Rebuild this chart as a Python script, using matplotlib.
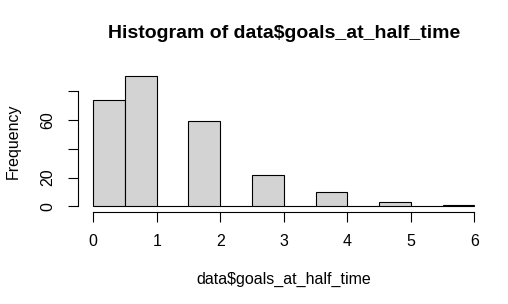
import matplotlib
matplotlib.use("Agg")
import matplotlib.pyplot as plt
import numpy as np

# histogram counts (bin width 0.5, from 0 to 6)
bin_edges = np.arange(0, 6.5, 0.5)
counts = [74, 90, 0, 59, 0, 22, 0, 10, 0, 3, 0, 1]
x_ticks = [0, 1, 2, 3, 4, 5, 6]
y_ticks = [0, 20, 40, 60, 80]
y_labels = ["0", "20", "", "60", ""]

plt.rcParams['font.family'] = ['Liberation Sans', 'DejaVu Sans']

W, H = 508, 304
fig = plt.figure(figsize=(W / 100, H / 100), dpi=100)
ax = fig.add_axes([78 / W, 1 - 211.7 / H, (489.5 - 78) / W, (211.7 - 71.2) / H])

widths = np.diff(bin_edges)
ax.bar(bin_edges[:-1], counts, width=widths, align='edge',
       color='#D3D3D3', edgecolor='black', linewidth=0.8)

ax.set_xlim(-0.24, 6.24)
ax.set_ylim(-3.6, 93.6)

for s in ['top', 'right']:
    ax.spines[s].set_visible(False)
ax.spines['left'].set_bounds(0, 80)
ax.spines['bottom'].set_bounds(0, 6)
for s in ['left', 'bottom']:
    ax.spines[s].set_linewidth(0.8)

ax.set_xticks(x_ticks)
ax.set_xticklabels([str(v) for v in x_ticks])
ax.set_yticks(y_ticks)
ax.set_yticklabels(y_labels, rotation=90, va='center')
ax.tick_params(axis='both', length=7.2, width=0.8, pad=9, labelsize=11.5)

fig.text(284 / W, 1 - 34 / H, "Histogram of data$goals_at_half_time",
         ha='center', va='center', fontsize=14, fontweight='bold')
fig.text(284 / W, 1 - 279 / H, "data$goals_at_half_time",
         ha='center', va='center', fontsize=11.5)
fig.text(13 / W, 1 - 141 / H, "Frequency", rotation=90,
         ha='center', va='center', fontsize=11.5)

fig.savefig("out.png", dpi=100)
